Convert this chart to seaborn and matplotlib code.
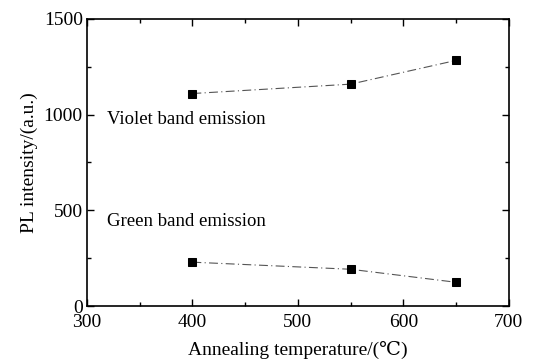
import matplotlib
matplotlib.use("Agg")
import matplotlib.pyplot as plt
import seaborn as sns
import pandas as pd
from matplotlib.ticker import MultipleLocator

temperature = [400, 550, 650]
violet = [1110, 1159, 1283]
green = [229, 192, 124]
labels = ["Violet band emission", "Green band emission"]

sns.set_theme(style="ticks")
plt.rcParams['font.family'] = ['Liberation Serif', 'DejaVu Serif']
plt.rcParams['text.color'] = 'black'
plt.rcParams['axes.labelcolor'] = 'black'

df = pd.DataFrame({
    "T": temperature * 2,
    "I": violet + green,
    "band": [labels[0]] * 3 + [labels[1]] * 3,
})

fig = plt.figure(figsize=(5.47, 3.63), dpi=100)
ax = fig.add_axes([0.159, 0.157, 0.771, 0.791])
for b in labels:
    sub = df[df.band == b]
    sns.lineplot(data=sub, x="T", y="I", ax=ax, color="#555555", lw=0.8,
                 linestyle=(0, (8, 3, 1, 3)), marker="s", markersize=6,
                 markerfacecolor="black", markeredgecolor="black", legend=False)

ax.set_xlim(300, 700)
ax.set_ylim(0, 1500)
ax.xaxis.set_major_locator(MultipleLocator(100))
ax.xaxis.set_minor_locator(MultipleLocator(50))
ax.yaxis.set_major_locator(MultipleLocator(500))
ax.yaxis.set_minor_locator(MultipleLocator(250))
ax.tick_params(which="both", direction="in", top=True, right=True, labelsize=14,
               colors="black", labelcolor="black")
ax.tick_params(axis="x", pad=6)
ax.tick_params(axis="y", pad=3)
ax.tick_params(which="major", length=5, width=1)
ax.tick_params(which="minor", length=3, width=1)
for s in ax.spines.values():
    s.set_linewidth(1.2)
    s.set_color("black")

ax.set_xlabel("Annealing temperature/(℃)", fontsize=14, labelpad=7)
ax.set_ylabel("PL intensity/(a.u.)", fontsize=14, labelpad=4)
ax.text(319, 975, labels[0], fontsize=13.5, va="center", ha="left")
ax.text(319, 440, labels[1], fontsize=13.5, va="center", ha="left")

fig.savefig("out.png", dpi=100)
